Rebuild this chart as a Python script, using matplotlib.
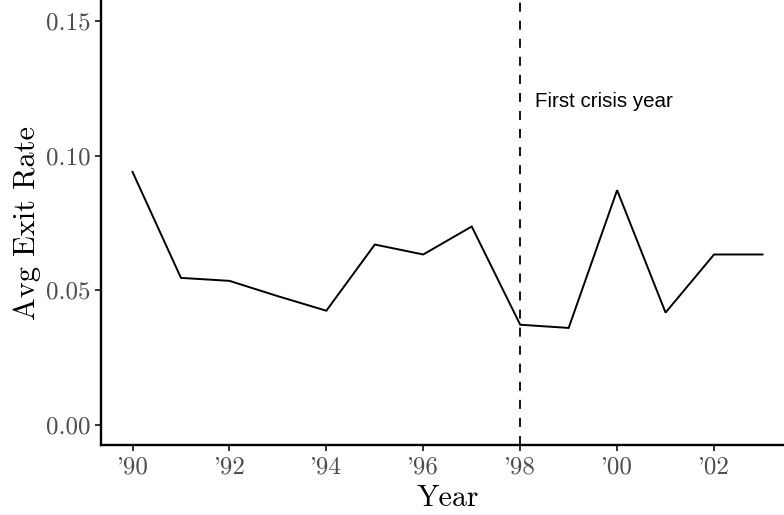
import matplotlib
matplotlib.use("Agg")
import matplotlib.pyplot as plt

years = [1990, 1991, 1992, 1993, 1994, 1995, 1996, 1997, 1998, 1999, 2000, 2001, 2002, 2003]
exit_rate = [0.0940, 0.0546, 0.0535, 0.0478, 0.0424, 0.0670, 0.0633, 0.0737,
             0.0372, 0.0360, 0.0872, 0.0417, 0.0633, 0.0633]
crisis_year = 1998
crisis_label = "First crisis year"
xtick_vals = [1990, 1992, 1994, 1996, 1998, 2000, 2002]
xtick_labels = ["'90", "'92", "'94", "'96", "'98", "'00", "'02"]
ytick_vals = [0.00, 0.05, 0.10, 0.15]
ytick_labels = ["0.00", "0.05", "0.10", "0.15"]

W, H = 784, 515
fig = plt.figure(figsize=(W / 100, H / 100), dpi=100)
ax = fig.add_axes([101 / W, (H - 445) / H, (794 - 101) / W, (445 - 1) / H])

ax.plot(years, exit_rate, color="black", lw=1.4, solid_joinstyle="miter")
ax.axvline(crisis_year, color="black", lw=1.3, linestyle=(0, (5, 5)))
ax.text(crisis_year + 0.3, 0.12, crisis_label, ha="left", va="center",
        fontsize=14.8, family="Liberation Sans", color="black")

ax.set_xlim(1989.35, 2003.65)
ax.set_ylim(-0.0075, 0.1575)

ax.set_xticks(xtick_vals)
ax.set_xticklabels(xtick_labels)
ax.set_yticks(ytick_vals)
ax.set_yticklabels(ytick_labels)

for s in ["top", "right"]:
    ax.spines[s].set_visible(False)
for s in ["left", "bottom"]:
    ax.spines[s].set_linewidth(1.7)
    ax.spines[s].set_color("black")

ax.tick_params(axis="both", length=4.3, width=1.4, color="#333333",
               labelcolor="#4D4D4D", labelsize=18, pad=3)
ax.tick_params(axis="x", pad=4)
for lab in ax.get_xticklabels() + ax.get_yticklabels():
    lab.set_family("cmr10")

ax.set_xlabel("Year", family="cmr10", fontsize=21.5, color="black", labelpad=4)
ax.set_ylabel("Avg Exit Rate", family="cmr10", fontsize=21.8, color="black", labelpad=4)

fig.savefig("out.png", dpi=100)
